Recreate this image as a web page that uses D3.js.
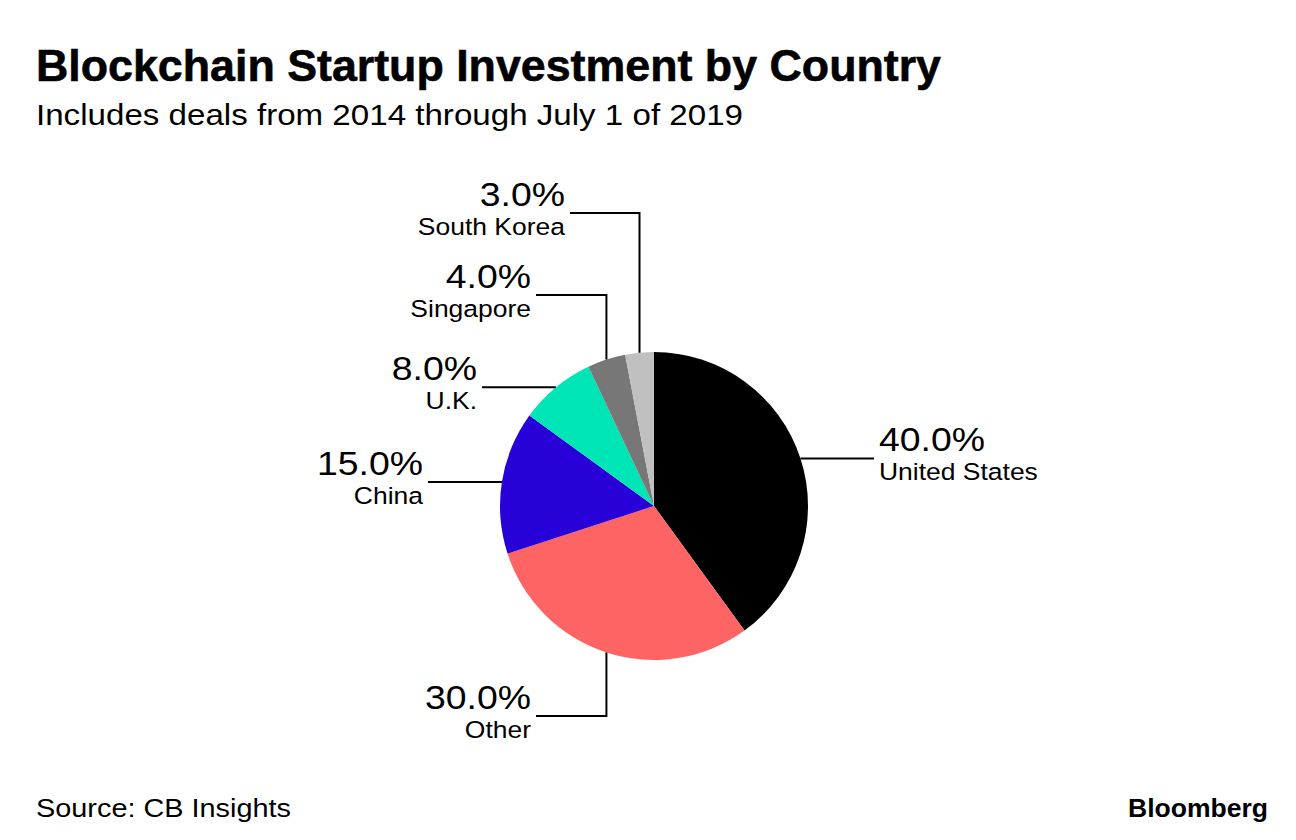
<!DOCTYPE html>
<html><head><meta charset="utf-8">
<script src="https://cdn.jsdelivr.net/npm/d3@7"></script>
<style>body{margin:0;background:#fff} svg{display:block}</style>
</head><body>
<script>
// ---- data ----
const countries = ["United States", "Other", "China", "U.K.", "Singapore", "South Korea"];
const shares = [40.0, 30.0, 15.0, 8.0, 4.0, 3.0];
const colors = ["#000000", "#ff6464", "#2800d8", "#00e5b5", "#777777", "#c0c0c0"];
const titleText = "Blockchain Startup Investment by Country";
const subtitleText = "Includes deals from 2014 through July 1 of 2019";
const sourceText = "Source: CB Insights";
const brandText = "Bloomberg";

// ---- layout (leader line ends) ----
const leaderEndX = [874, 536, 428, 482, 536, 570];
const leaderElbowY = [null, 716, null, null, 295, 213]; // null => straight horizontal line

const W = 1296, H = 840;
const cx = 654, cy = 506, R = 154;
const FONT = "'Liberation Sans', Arial, Helvetica, sans-serif";

const svg = d3.select("body").append("svg").attr("width", W).attr("height", H);

function stretch(sel, factor) {
  sel.each(function () {
    const w = this.getComputedTextLength();
    d3.select(this).attr("textLength", w * factor).attr("lengthAdjust", "spacingAndGlyphs");
  });
}
function fit(sel, width) {
  sel.attr("textLength", width).attr("lengthAdjust", "spacingAndGlyphs");
}

// titles
svg.append("text").attr("x", 36).attr("y", 81).attr("font-family", FONT)
  .attr("font-weight", "bold").attr("font-size", 45).attr("fill", "#000")
  .attr("stroke", "#000").attr("stroke-width", 0.6)
  .text(titleText).call(fit, 905);
svg.append("text").attr("x", 36).attr("y", 125).attr("font-family", FONT)
  .attr("font-size", 30).attr("fill", "#000")
  .text(subtitleText).call(fit, 707);

// pie
const data = countries.map((c, i) => ({ country: c, value: shares[i], color: colors[i], i }));
const pie = d3.pie().value(d => d.value).sort(null);
const arc = d3.arc().innerRadius(0).outerRadius(R);
const arcs = pie(data);

const g = svg.append("g").attr("transform", `translate(${cx},${cy})`);
g.selectAll("path").data(arcs).join("path")
  .attr("d", arc).attr("fill", d => d.data.color);

// leader lines + labels
const fmt = d3.format(".1f");
arcs.forEach(a => {
  const i = a.data.i;
  const ang = (a.startAngle + a.endAngle) / 2;
  const px = cx + R * Math.sin(ang), py = cy - R * Math.cos(ang);
  const ex = leaderEndX[i];
  const ey = leaderElbowY[i] == null ? py : leaderElbowY[i];
  const pts = leaderElbowY[i] == null ? [[px, py], [ex, ey]] : [[px, py], [px, ey], [ex, ey]];
  svg.append("path").attr("d", d3.line()(pts)).attr("fill", "none")
    .attr("stroke", "#000").attr("stroke-width", 2);
  const right = ex > px;
  const tx = right ? ex + 5 : ex - 5;
  const anchor = right ? "start" : "end";
  svg.append("text").attr("x", tx).attr("y", ey - 7).attr("text-anchor", anchor)
    .attr("font-family", FONT).attr("font-size", 32.5).attr("fill", "#000")
    .text(fmt(a.data.value) + "%").call(stretch, 1.15);
  svg.append("text").attr("x", tx).attr("y", ey + 22).attr("text-anchor", anchor)
    .attr("font-family", FONT).attr("font-size", 24.5).attr("fill", "#000")
    .text(a.data.country).call(stretch, 1.08);
});

// footer
svg.append("text").attr("x", 36).attr("y", 817).attr("font-family", FONT)
  .attr("font-size", 25).attr("fill", "#000").text(sourceText).call(fit, 255);
svg.append("text").attr("x", 1268).attr("y", 817).attr("text-anchor", "end")
  .attr("font-family", FONT).attr("font-weight", "bold").attr("font-size", 26)
  .attr("fill", "#000").text(brandText).call(fit, 140);
</script>
</body></html>
